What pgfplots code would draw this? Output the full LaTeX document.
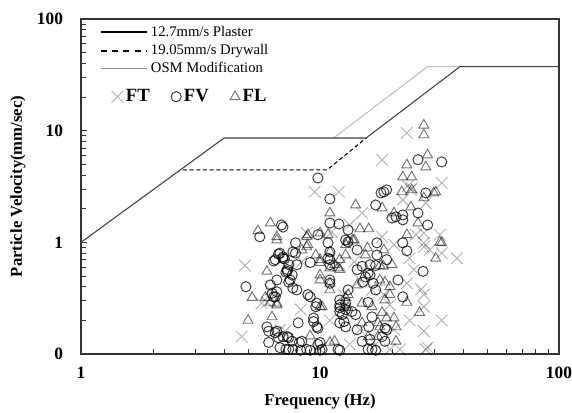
\documentclass[border=0pt]{standalone}
\usepackage{fontspec}
\setmainfont{Liberation Serif}
\usepackage{pgfplots}
\pgfplotsset{compat=1.18}
\begin{document}
\begin{tikzpicture}
\path[use as bounding box] (-60.75pt,-43.5pt) rectangle (368.25pt,265.5pt);
\begin{axis}[
  at={(0pt,0pt)}, anchor=south west,
  scale only axis, width=358.5pt, height=251.25pt,
  xmode=log, ymode=log,
  xmin=1, xmax=100, ymin=0.1, ymax=100,
  xtick={1,10,100}, xticklabels={\textbf{1},\textbf{10},\textbf{100}},
  ytick={0.1,1,10,100}, yticklabels={\textbf{0},\textbf{1},\textbf{10},\textbf{100}},
  minor xtick={2,3,4,5,6,7,8,9,20,30,40,50,60,70,80,90},
  minor ytick={0.2,0.3,0.4,0.5,0.6,0.7,0.8,0.9,2,3,4,5,6,7,8,9,20,30,40,50,60,70,80,90},
  tick align=inside, xtick pos=bottom, ytick pos=left,
  major tick length=4.5pt, minor tick length=3.5pt,
  every tick/.style={black!80, line width=0.6pt},
  axis line style={black!80, line width=0.8pt},
  ticklabel style={font=\fontsize{13}{15}\selectfont},
  yticklabel style={xshift=-10pt},
  xticklabel style={yshift=-6pt},
  xlabel={\textbf{Frequency (Hz)}},
  ylabel={\textbf{Particle Velocity(mm/sec)}},
  label style={font=\fontsize{12.5}{15}\selectfont},
  xlabel style={at={(axis description cs:0.5,-0.143)}, anchor=center},
  ylabel style={at={(axis description cs:-0.132,0.5)}, anchor=center},
  legend style={draw=none, fill=none, at={(axis description cs:0.03,0.995)}, anchor=north west,
    font=\fontsize{11}{13}\selectfont, row sep=0.5pt, cells={anchor=west}},
  legend image code/.code={\draw[#1] (0pt,0pt) -- (35pt,0pt);},
]
\addlegendimage{black, line width=1.5pt}
\addlegendentry{12.7mm/s Plaster}
\addlegendimage{black, line width=1.5pt, dash pattern=on 4.5pt off 4pt}
\addlegendentry{19.05mm/s Drywall}
\addlegendimage{black!45, line width=1pt}
\addlegendentry{OSM Modification}
\addplot[forget plot, black!25, line width=0.8pt] coordinates {(11.4,8.6) (28.2,37.4) (38.5,37.4)};
\addplot[forget plot, black, line width=0.8pt, dash pattern=on 3pt off 2pt] coordinates {(2.67,4.45) (10.7,4.45) (15.6,8.6)};
\addplot[forget plot, black!75, line width=0.8pt] coordinates {(1,1) (3.97,8.6) (15.6,8.6) (38.5,37.4) (100,37.4)};
\end{axis}
\begin{axis}[
  at={(0pt,0pt)}, anchor=south west,
  scale only axis, width=358.5pt, height=251.25pt,
  xmode=log, ymode=log,
  xmin=1, xmax=100, ymin=0.1, ymax=100,
  hide axis, clip=false,
  legend columns=3,
  legend style={draw=none, fill=none, at={(axis description cs:0.055,0.768)}, anchor=west,
    font=\bfseries\fontsize{14}{16}\selectfont,
    /tikz/every even column/.append style={column sep=14pt}},
  legend image code/.code={\draw[#1] plot coordinates {(4pt,0pt)};},
]
\addplot[only marks, mark=x, mark size=6.2pt, draw=black, draw opacity=0.3, line width=0.7pt]
 table[row sep=\\] {x y\\
4.85 0.62\\ 6.0 0.29\\ 5.7 0.285\\ 7.15 0.16\\ 4.7 0.143\\ 8.8 1.21\\ 9.5 2.83\\ 12.0 2.83\\
15.0 1.83\\ 11.2 1.24\\ 18.2 1.12\\ 25.2 1.17\\ 27.2 0.99\\ 28.8 0.855\\ 37.4 0.72\\ 8.4 0.67\\
27.2 0.34\\ 27.2 0.265\\ 32.3 0.20\\ 27.2 0.16\\ 27.7 0.11\\ 23.1 9.55\\ 18.2 5.47\\ 32.3 3.40\\
24.2 3.07\\ 23.3 3.2\\ 24.0 2.95\\ 27.2 1.21\\ 31.7 1.17\\ 27.2 0.91\\ 32.3 0.80\\ 26.5 0.38\\
28.2 0.114\\ 23.1 0.43\\ 22.2 2.40\\ 27.7 2.25\\ 12.1 0.63\\ 13.9 0.67\\ 16.5 0.375\\ 12.6 0.34\\
19.6 0.275\\ 14.7 0.165\\ 11.0 0.20\\ 8.3 0.25\\ 20.4 0.165\\ 18.5 0.34\\ 13.3 0.122\\ 17.1 0.122\\
23.7 0.20\\ 21.6 0.11\\ 24.7 0.57\\ 10.0 0.11\\ 19.6 0.11\\ 14.7 0.46\\ 23.7 0.72\\ 20.4 0.95\\
13.3 1.43\\ 6.8 0.165\\ 6.2 0.375\\
};
\addlegendentry{FT}
\addplot[only marks, mark=o, mark size=3.8pt, draw=black, draw opacity=0.78, line width=0.7pt]
 table[row sep=\\] {x y\\
7.0 1.37\\ 5.6 1.12\\ 6.9 1.43\\ 7.9 0.99\\ 6.8 0.80\\ 7.9 0.80\\ 6.4 0.68\\ 7.1 0.71\\
8.0 0.63\\ 7.3 0.55\\ 7.5 0.46\\ 6.6 0.46\\ 8.0 0.375\\ 4.9 0.40\\ 6.3 0.35\\ 6.5 0.325\\
8.1 0.19\\ 6.0 0.175\\ 6.1 0.16\\ 6.5 0.155\\ 7.3 0.143\\ 6.7 0.14\\ 6.1 0.127\\ 6.8 0.114\\
7.4 0.110\\ 8.2 0.127\\ 9.8 1.17\\ 9.1 0.66\\ 11.0 0.82\\ 11.0 0.63\\ 8.9 0.34\\ 9.6 0.265\\
12.8 0.285\\ 12.8 0.25\\ 9.4 0.21\\ 9.7 0.175\\ 8.4 0.13\\
7.2 0.11\\ 8.3 0.108\\ 8.8 0.11\\ 9.1 0.108\\ 10.2 0.11\\ 12.1 0.108\\ 7.7 0.11\\ 10.0 0.108\\
15.9 0.11\\ 17.1 0.108\\ 11.9 0.11\\ 16.5 0.11\\
18.5 2.83\\ 18.0 2.77\\ 27.7 2.77\\ 11.0 2.45\\ 17.1 2.16\\ 20.0 1.65\\ 20.8 1.69\\ 22.2 1.76\\
22.2 1.59\\ 25.7 1.83\\ 28.2 1.43\\ 11.0 1.49\\ 12.0 1.46\\ 13.1 1.29\\ 13.1 1.01\\ 14.3 0.855\\
17.3 0.99\\ 17.3 0.77\\ 22.2 0.99\\ 23.1 0.84\\ 7.7 0.82\\ 7.0 0.72\\ 11.0 0.70\\ 14.3 0.57\\
15.0 0.61\\ 16.2 0.63\\ 17.1 0.62\\ 19.0 0.70\\ 27.0 0.55\\ 7.3 0.57\\ 11.0 0.46\\ 11.0 0.43\\
13.1 0.375\\ 15.1 0.44\\ 16.2 0.51\\ 21.2 0.46\\ 22.2 0.325\\ 17.1 0.375\\ 9.1 0.325\\ 12.1 0.305\\
12.1 0.275\\ 12.1 0.26\\ 12.1 0.24\\ 12.4 0.225\\ 14.1 0.225\\ 15.9 0.29\\ 12.1 0.19\\ 12.8 0.175\\
14.3 0.165\\ 16.0 0.175\\ 19.0 0.165\\ 7.0 0.143\\ 10.0 0.127\\ 15.0 0.13\\ 18.2 0.143\\ 9.8 3.77\\
19.0 2.95\\ 25.7 5.5\\ 32.3 5.25\\ 12.8 1.05\\ 10.8 0.99\\ 10.8 0.72\\ 7.4 0.63\\ 7.65 0.51\\
7.7 0.39\\ 15.5 0.49\\ 15.9 0.53\\ 16.7 0.43\\ 9.7 0.285\\ 13.6 0.24\\ 16.5 0.215\\ 9.4 0.195\\
9.8 0.17\\ 12.6 0.195\\ 18.7 0.17\\ 7.4 0.14\\ 7.65 0.13\\ 9.8 0.122\\ 16.2 0.135\\ 18.7 0.13\\
6.7 0.785\\ 6.5 0.70\\ 7.0 0.74\\ 7.2 0.54\\ 7.4 0.44\\ 6.2 0.415\\ 6.6 0.36\\ 6.4 0.325\\
6.6 0.16\\
};
\addlegendentry{FV}
\addplot[only marks, mark=triangle, mark size=4.3pt, draw=black, draw opacity=0.55, line width=0.7pt]
 table[row sep=\\] {x y\\
6.2 1.49\\ 5.5 1.27\\ 6.6 1.12\\ 6.6 1.05\\ 6.0 0.55\\ 5.2 0.32\\ 5.9 0.32\\ 6.2 0.29\\
6.6 0.285\\ 6.6 0.275\\ 5.0 0.20\\ 6.3 0.215\\ 8.4 0.855\\ 8.8 0.91\\ 9.6 0.77\\ 10.0 0.70\\
11.5 0.63\\ 12.1 0.57\\ 11.0 0.375\\ 10.0 0.265\\ 9.1 0.145\\ 22.0 2.83\\ 24.2 2.95\\ 29.9 2.77\\
14.1 2.16\\ 18.2 2.03\\ 20.4 1.83\\ 25.7 1.49\\ 11.0 1.83\\ 14.7 1.32\\ 16.0 1.32\\ 8.8 1.12\\
10.0 1.21\\ 13.1 1.01\\ 13.7 1.05\\ 15.8 0.89\\ 23.1 1.17\\ 32.3 0.99\\ 30.5 0.72\\ 11.0 0.82\\
12.1 0.70\\ 11.9 0.59\\ 17.8 0.62\\ 20.0 0.63\\ 10.0 0.46\\ 13.1 0.34\\ 17.8 0.46\\ 19.6 0.40\\
19.6 0.34\\ 13.1 0.26\\ 15.0 0.285\\ 16.5 0.265\\ 26.1 0.235\\ 18.2 0.235\\ 20.4 0.21\\ 15.0 0.19\\
17.8 0.175\\ 19.0 0.21\\ 20.8 0.175\\ 11.0 0.127\\ 15.9 0.143\\ 20.8 0.13\\ 27.2 11.2\\ 27.2 9.17\\
28.2 6.05\\ 27.7 4.73\\ 23.1 4.93\\ 22.2 3.85\\ 24.2 3.85\\ 30.5 2.83\\ 27.2 2.50\\ 24.0 2.07\\
31.7 1.0\\ 23.1 0.29\\ 8.9 0.95\\ 12.8 0.95\\ 12.8 0.77\\ 15.5 0.77\\ 18.5 0.855\\ 10.0 0.66\\
11.0 0.59\\ 18.4 0.61\\ 10.0 0.51\\ 11.0 0.43\\ 12.8 0.32\\ 14.3 0.415\\ 18.7 0.44\\ 10.2 0.265\\
12.6 0.265\\ 18.7 0.305\\ 17.5 0.19\\ 11.5 0.13\\ 17.5 0.143\\ 10.8 1.17\\ 8.9 1.17\\ 13.9 1.05\\
};
\addlegendentry{FL}
\end{axis}
\end{tikzpicture}
\end{document}
